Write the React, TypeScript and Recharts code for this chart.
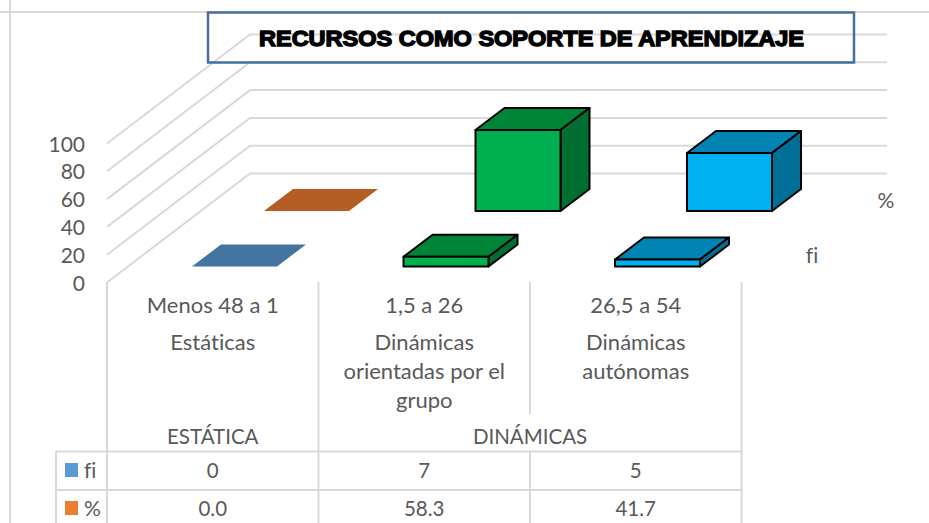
import React from "react";
import { ComposedChart, Bar, XAxis, YAxis, CartesianGrid } from "recharts";

const categories = ["Menos 48 a 1", "1,5 a 26", "26,5 a 54"];
const fiValues = [0, 7, 5];
const pctValues = [0.0, 58.3, 41.7];
const pctLabels = ["0.0", "58.3", "41.7"];
const descriptions = [["Estáticas"], ["Dinámicas", "orientadas por el", "grupo"], ["Dinámicas", "autónomas"]];
const groups = ["ESTÁTICA", "DINÁMICAS"];
const yTicks = [0, 20, 40, 60, 80, 100];
const seriesNames = ["fi", "%"];
const title = "RECURSOS COMO SOPORTE DE APRENDIZAJE";

const data = categories.map((category, i) => ({ category, fi: fiValues[i], pct: pctValues[i] }));

const WIDTH = 929;
const HEIGHT = 523;
const FONT = "Lato, 'Noto Sans', sans-serif";
const TEXT = "#595959";
const RULE = "#d9d9d9";
const WALL_DX = 143;
const WALL_DY = 109;
const WALL_END = 887;
const DEPTH_DX = 29;
const DEPTH_DY = 22;

const boxColors = [
  { front: "#5b9bd5", top: "#4475a0", side: "#4475a0" },
  { front: "#00b050", top: "#008438", side: "#006f2f" },
  { front: "#00b0f0", top: "#0084b4", side: "#006f98" },
];
const flatPct = { front: "#ed7d31", top: "#b55d22", side: "#b55d22" };

const makeBox = (rowDx: number, rowDy: number, isPct: boolean) => (props: any) => {
  const { x, y, width, height, index } = props;
  const c = isPct && index === 0 ? flatPct : boxColors[index];
  const l = x + rowDx;
  const r = l + width;
  const t = y + rowDy;
  const b = t + height;
  const flat = height <= 0;
  const stroke = flat ? "none" : "#000";
  return (
    <g strokeLinejoin="round" stroke={stroke} strokeWidth={2}>
      <polygon points={`${l},${t} ${l + DEPTH_DX},${t - DEPTH_DY} ${r + DEPTH_DX},${t - DEPTH_DY} ${r},${t}`} fill={c.top} />
      {!flat && (
        <>
          <polygon points={`${r},${t} ${r + DEPTH_DX},${t - DEPTH_DY} ${r + DEPTH_DX},${b - DEPTH_DY} ${r},${b}`} fill={c.side} />
          <rect x={l} y={t} width={width} height={height} fill={c.front} />
        </>
      )}
    </g>
  );
};

const FiBox = makeBox(22, -16, false);
const PctBox = makeBox(94, -71.5, true);

const WallLine = (props: any) => {
  const { x1, y1, index } = props;
  const points = `${x1},${y1} ${x1 + WALL_DX},${y1 - WALL_DY} ${WALL_END},${y1 - WALL_DY}`;
  return <polyline key={`wall-${index}`} points={points} fill="none" stroke={RULE} strokeWidth={2} />;
};

const YTick = (props: any) => {
  const { x, y, payload } = props;
  return (
    <text x={x} y={y} dy={8} textAnchor="end" fontFamily={FONT} fontSize={21} fill={TEXT}>
      {payload.value}
    </text>
  );
};

const Cell = ({ x, y, children, size = 22 }: any) => (
  <text x={x} y={y} dy={7} textAnchor="middle" fontFamily={FONT} fontSize={size} fill={TEXT} style={{ fontVariantLigatures: "none" }}>
    {children}
  </text>
);

const rule = { stroke: RULE, strokeWidth: 2 };

const XTick = (props: any) => {
  const { x, payload, index } = props;
  const half = 105.8;
  const left = x - half;
  const right = x + half;
  const descLines = descriptions[index];
  return (
    <g>
      <line x1={left} x2={left} y1={282} y2={index === 2 ? 414 : 523} {...rule} />
      {index === 2 && <line x1={left} x2={left} y1={451} y2={523} {...rule} />}
      {index === 2 && <line x1={right} x2={right} y1={282} y2={523} {...rule} />}
      <line x1={left} x2={right} y1={451.5} y2={451.5} {...rule} />
      <line x1={left} x2={right} y1={490} y2={490} {...rule} />
      <Cell x={x} y={306}>{payload.value}</Cell>
      {descLines.map((line, i) => (
        <Cell key={line} x={x} y={343 + i * 29}>{line}</Cell>
      ))}
      {index === 0 && <Cell x={x} y={437} size={20.5}>{groups[0]}</Cell>}
      {index === 1 && <Cell x={right} y={437} size={20.5}>{groups[1]}</Cell>}
      <Cell x={x} y={471} size={20.5}>{fiValues[index]}</Cell>
      <Cell x={x} y={509} size={20.5}>{pctLabels[index]}</Cell>
    </g>
  );
};

export default function App() {
  const plain = { fontVariantLigatures: "none" as const };
  return (
    <div style={{ position: "absolute", left: 0, top: 0, width: WIDTH, height: HEIGHT, background: "#fff", overflow: "hidden" }}>
      <ComposedChart
        width={WIDTH}
        height={HEIGHT}
        data={data}
        margin={{ top: 143.5, right: 187.5, bottom: 0.5, left: 0 }}
        barSize={85}
        barGap={-85}
      >
        <CartesianGrid horizontal={WallLine as any} vertical={false} />
        <XAxis dataKey="category" height={240} axisLine={false} tickLine={false} interval={0} tick={XTick as any} />
        <YAxis width={107} domain={[0, 100]} ticks={yTicks} interval={0} axisLine={false} tickLine={false} tickSize={0} tickMargin={22} tick={YTick as any} />
        <Bar dataKey="pct" name={seriesNames[1]} isAnimationActive={false} shape={PctBox as any} />
        <Bar dataKey="fi" name={seriesNames[0]} isAnimationActive={false} shape={FiBox as any} />
      </ComposedChart>
      <svg width={WIDTH} height={HEIGHT} style={{ position: "absolute", left: 0, top: 0, pointerEvents: "none" }}>
        <line x1={0} x2={WIDTH} y1={12} y2={12} {...rule} />
        <line x1={10} x2={10} y1={0} y2={HEIGHT} {...rule} />
        <line x1={56} x2={56} y1={451} y2={HEIGHT} {...rule} />
        <line x1={56} x2={107} y1={451.5} y2={451.5} {...rule} />
        <line x1={56} x2={107} y1={490} y2={490} {...rule} />
        <rect x={65} y={463} width={13} height={14} fill="#5b9bd5" />
        <rect x={65} y={501} width={13} height={14} fill="#ed7d31" />
        <text x={84} y={478} fontFamily={FONT} fontSize={21} fill={TEXT} style={plain}>{seriesNames[0]}</text>
        <text x={84} y={516} fontFamily={FONT} fontSize={21} fill={TEXT} style={plain}>{seriesNames[1]}</text>
        <text x={886} y={208} textAnchor="middle" fontFamily={FONT} fontSize={21} fill={TEXT} style={plain}>{seriesNames[1]}</text>
        <text x={812} y={263} textAnchor="middle" fontFamily={FONT} fontSize={21} fill={TEXT} style={plain}>{seriesNames[0]}</text>
        <rect x={208} y={12.5} width={646} height={50} fill="none" stroke="#41719c" strokeWidth={2.5} />
        <text
          x={259}
          y={45.5}
          fontFamily="'Liberation Sans', Arial, sans-serif"
          fontWeight={700}
          fontSize={22.5}
          textLength={545}
          lengthAdjust="spacingAndGlyphs"
          fill="#000"
          stroke="#000"
          strokeWidth={1.4}
        >
          {title}
        </text>
      </svg>
    </div>
  );
}
